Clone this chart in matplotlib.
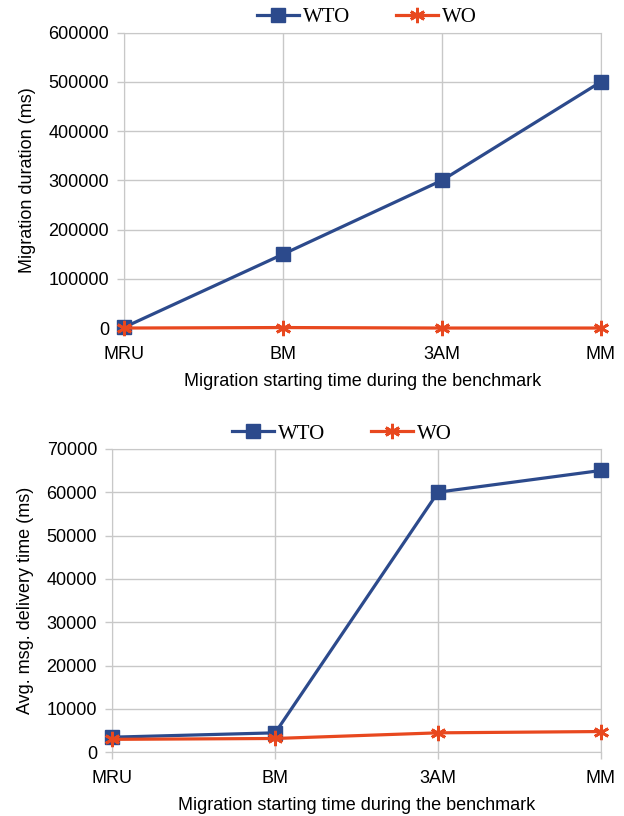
import matplotlib
matplotlib.use("Agg")
import matplotlib.pyplot as plt
from matplotlib.lines import Line2D

categories = ["MRU", "BM", "3AM", "MM"]
top_wto = [1500, 150000, 300000, 500000]
top_wo = [0, 1000, 0, 0]
bot_wto = [3500, 4500, 60000, 65000]
bot_wo = [3000, 3200, 4500, 4800]
top_yticks = [0, 100000, 200000, 300000, 400000, 500000, 600000]
bot_yticks = [0, 10000, 20000, 30000, 40000, 50000, 60000, 70000]

BLUE = "#2C4A8C"
RED = "#E8481F"
GRID = "#C8C8C8"

plt.rcParams["font.family"] = ["Liberation Sans", "DejaVu Sans"]

fig = plt.figure(figsize=(6.24, 8.16), dpi=100)
ax1 = fig.add_axes([0.199, 0.598, 0.764, 0.362])
ax2 = fig.add_axes([0.180, 0.078, 0.783, 0.372])

def style(ax, wto, wo, yticks, ylabel, legx):
    x = list(range(len(categories)))
    ax.plot(x, wto, color=BLUE, lw=2.3, marker="s", ms=10, mfc=BLUE, mec=BLUE, zorder=3, clip_on=False)
    ax.plot(x, wo, color=RED, lw=2.3, marker=(6, 2, 0), ms=11, mew=2, mec=RED, zorder=4, clip_on=False)
    ax.set_xlim(0, len(categories) - 1)
    ax.set_ylim(yticks[0], yticks[-1])
    ax.set_xticks(x)
    ax.set_xticklabels(categories, fontsize=13)
    ax.set_yticks(yticks)
    ax.set_yticklabels([str(v) for v in yticks], fontsize=13)
    ax.grid(True, color=GRID, lw=1)
    ax.set_axisbelow(True)
    for s in ax.spines.values():
        s.set_color(GRID)
    ax.tick_params(axis="y", length=5, color=GRID, width=1, pad=6)
    ax.tick_params(axis="x", length=5, color=GRID, width=1, pad=8)
    ax.set_xlabel("Migration starting time during the benchmark", fontsize=13, labelpad=7)
    ax.set_ylabel(ylabel, fontsize=13, labelpad=9)
    handles = [
        Line2D([], [], color=BLUE, lw=2.3, marker="s", ms=10),
        Line2D([], [], color=RED, lw=2.3, marker=(6, 2, 0), ms=11, mew=2),
    ]
    ax.legend(handles, ["WTO", "WO"], loc="lower center", bbox_to_anchor=(legx, 0.99),
              ncol=2, frameon=False, prop={"family": "Liberation Serif", "size": 15},
              handlelength=2.0, columnspacing=2.2, handletextpad=0.2, borderaxespad=0)

style(ax1, top_wto, top_wo, top_yticks, "Migration duration (ms)", 0.51)
style(ax2, bot_wto, bot_wo, bot_yticks, "Avg. msg. delivery time (ms)", 0.47)

fig.savefig("out.png", dpi=100)
